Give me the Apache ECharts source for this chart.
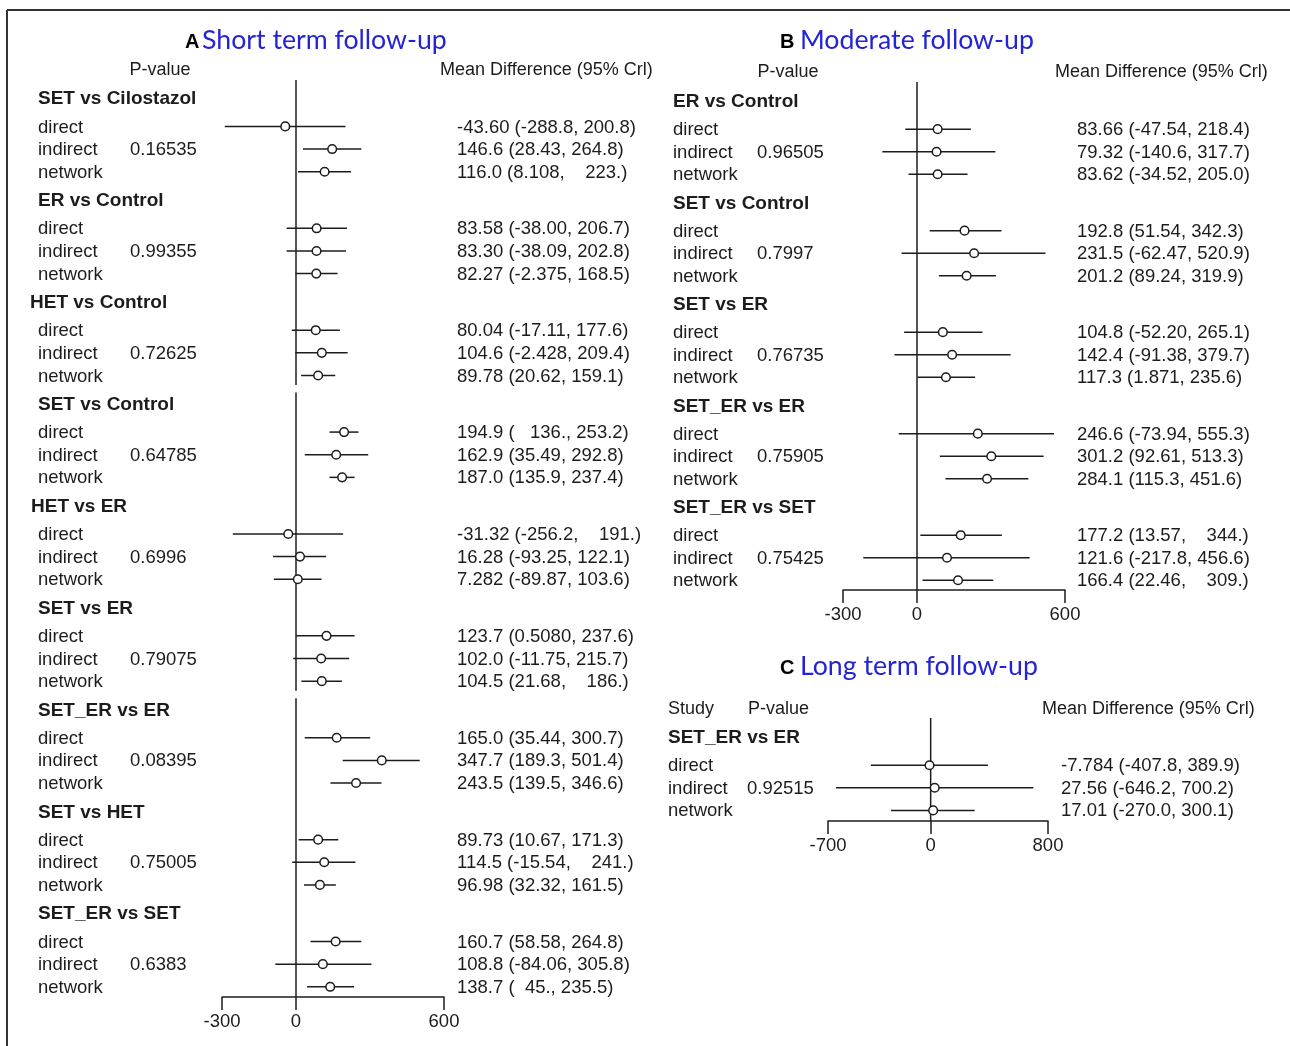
<!DOCTYPE html>
<html><head><meta charset="utf-8">
<script src="https://cdn.jsdelivr.net/npm/echarts@6/dist/echarts.min.js"></script>
<style>html,body{margin:0;padding:0;background:#fff}#c{width:1290px;height:1046px}</style>
</head><body><div id="c"></div><script>
// ---------- DATA ----------
const rowNames = ['direct', 'indirect', 'network'];

// Panel A: Short term follow-up
const compA = ['SET vs Cilostazol', 'ER vs Control', 'HET vs Control', 'SET vs Control', 'HET vs ER', 'SET vs ER', 'SET_ER vs ER', 'SET vs HET', 'SET_ER vs SET'];
const pA = ['0.16535', '0.99355', '0.72625', '0.64785', '0.6996', '0.79075', '0.08395', '0.75005', '0.6383'];
const meanA = [-43.60, 146.6, 116.0, 83.58, 83.30, 82.27, 80.04, 104.6, 89.78, 194.9, 162.9, 187.0, -31.32, 16.28, 7.282, 123.7, 102.0, 104.5, 165.0, 347.7, 243.5, 89.73, 114.5, 96.98, 160.7, 108.8, 138.7];
const loA = [-288.8, 28.43, 8.108, -38.00, -38.09, -2.375, -17.11, -2.428, 20.62, 136.0, 35.49, 135.9, -256.2, -93.25, -89.87, 0.5080, -11.75, 21.68, 35.44, 189.3, 139.5, 10.67, -15.54, 32.32, 58.58, -84.06, 45.0];
const hiA = [200.8, 264.8, 223.0, 206.7, 202.8, 168.5, 177.6, 209.4, 159.1, 253.2, 292.8, 237.4, 191.0, 122.1, 103.6, 237.6, 215.7, 186.0, 300.7, 501.4, 346.6, 171.3, 241.0, 161.5, 264.8, 305.8, 235.5];
const labA = ['-43.60 (-288.8, 200.8)', '146.6 (28.43, 264.8)', '116.0 (8.108,    223.)',
  '83.58 (-38.00, 206.7)', '83.30 (-38.09, 202.8)', '82.27 (-2.375, 168.5)',
  '80.04 (-17.11, 177.6)', '104.6 (-2.428, 209.4)', '89.78 (20.62, 159.1)',
  '194.9 (   136., 253.2)', '162.9 (35.49, 292.8)', '187.0 (135.9, 237.4)',
  '-31.32 (-256.2,    191.)', '16.28 (-93.25, 122.1)', '7.282 (-89.87, 103.6)',
  '123.7 (0.5080, 237.6)', '102.0 (-11.75, 215.7)', '104.5 (21.68,    186.)',
  '165.0 (35.44, 300.7)', '347.7 (189.3, 501.4)', '243.5 (139.5, 346.6)',
  '89.73 (10.67, 171.3)', '114.5 (-15.54,    241.)', '96.98 (32.32, 161.5)',
  '160.7 (58.58, 264.8)', '108.8 (-84.06, 305.8)', '138.7 (  45., 235.5)'];
const ticksA = [-300, 0, 600];

// Panel B: Moderate follow-up
const compB = ['ER vs Control', 'SET vs Control', 'SET vs ER', 'SET_ER vs ER', 'SET_ER vs SET'];
const pB = ['0.96505', '0.7997', '0.76735', '0.75905', '0.75425'];
const meanB = [83.66, 79.32, 83.62, 192.8, 231.5, 201.2, 104.8, 142.4, 117.3, 246.6, 301.2, 284.1, 177.2, 121.6, 166.4];
const loB = [-47.54, -140.6, -34.52, 51.54, -62.47, 89.24, -52.20, -91.38, 1.871, -73.94, 92.61, 115.3, 13.57, -217.8, 22.46];
const hiB = [218.4, 317.7, 205.0, 342.3, 520.9, 319.9, 265.1, 379.7, 235.6, 555.3, 513.3, 451.6, 344.0, 456.6, 309.0];
const labB = ['83.66 (-47.54, 218.4)', '79.32 (-140.6, 317.7)', '83.62 (-34.52, 205.0)',
  '192.8 (51.54, 342.3)', '231.5 (-62.47, 520.9)', '201.2 (89.24, 319.9)',
  '104.8 (-52.20, 265.1)', '142.4 (-91.38, 379.7)', '117.3 (1.871, 235.6)',
  '246.6 (-73.94, 555.3)', '301.2 (92.61, 513.3)', '284.1 (115.3, 451.6)',
  '177.2 (13.57,    344.)', '121.6 (-217.8, 456.6)', '166.4 (22.46,    309.)'];
const ticksB = [-300, 0, 600];

// Panel C: Long term follow-up
const compC = ['SET_ER vs ER'];
const pC = ['0.92515'];
const meanC = [-7.784, 27.56, 17.01];
const loC = [-407.8, -646.2, -270.0];
const hiC = [389.9, 700.2, 300.1];
const labC = ['-7.784 (-407.8, 389.9)', '27.56 (-646.2, 700.2)', '17.01 (-270.0, 300.1)'];
const ticksC = [-700, 0, 800];

// ---------- LAYOUT ----------
const INK = '#1c1c1c';
const FONT = '"Liberation Sans", Arial, sans-serif';
const GROUP_STEP = 4.5;
const ROW_OFF = [1.25, 2.25, 3.25];
const LW = 1.5;

const panels = [
  { comps: compA, p: pA, mean: meanA, lo: loA, hi: hiA, lab: labA, ticks: ticksA,
    grid: { left: 222, top: 80, width: 222, height: 917 }, x: [-300, 600], y: [-0.8, 39.7],
    cols: { head: 38, row: 38, p: 130, val: 457 }, headIndent: { 2: -8, 4: -7 },
    zeroSeg: [[0, 2], [3, 5], [6, 8]] },
  { comps: compB, p: pB, mean: meanB, lo: loB, hi: hiB, lab: labB, ticks: ticksB,
    grid: { left: 843, top: 82, width: 222, height: 508 }, x: [-300, 600], y: [-0.84, 21.68],
    cols: { head: 673, row: 673, p: 757, val: 1077 }, headIndent: {},
    zeroSeg: [[0, 4]] },
  { comps: compC, p: pC, mean: meanC, lo: loC, hi: hiC, lab: labC, ticks: ticksC,
    grid: { left: 828, top: 718, width: 220, height: 103 }, x: [-700, 800], y: [-0.84, 3.72],
    cols: { head: 668, row: 668, p: 747, val: 1061 }, headIndent: {},
    zeroSeg: [[0, 0]] }
];

const grids = [], xAxes = [], yAxes = [], series = [];

panels.forEach((P, pi) => {
  grids.push(Object.assign({ containLabel: false }, P.grid));
  xAxes.push({
    type: 'value', gridIndex: pi, min: P.x[0], max: P.x[1], position: 'bottom',
    axisLine: { show: true, onZero: false, lineStyle: { color: INK, width: LW } },
    axisTick: { show: true, length: 13, customValues: P.ticks, lineStyle: { color: INK, width: LW } },
    axisLabel: { show: true, customValues: P.ticks, margin: 15, color: INK, fontSize: 18.5, fontFamily: FONT },
    splitLine: { show: false }
  });
  yAxes.push({ type: 'value', gridIndex: pi, min: P.y[0], max: P.y[1], inverse: true, show: false,
    splitLine: { show: false } });

  // zero reference line segments
  const nG = P.comps.length;
  const segData = P.zeroSeg.map(([g0, g1]) => [0,
    g0 === 0 ? P.y[0] : g0 * GROUP_STEP - 0.5,
    g1 === nG - 1 ? P.y[1] : g1 * GROUP_STEP + ROW_OFF[2] + 0.42]);
  series.push({
    type: 'custom', xAxisIndex: pi, yAxisIndex: pi, silent: true,
    data: segData, encode: { x: 0, y: [1, 2] },
    renderItem: (params, api) => {
      const a = api.coord([0, api.value(1)]), b = api.coord([0, api.value(2)]);
      return { type: 'line', shape: { x1: a[0], y1: a[1], x2: b[0], y2: b[1] },
        style: { stroke: INK, lineWidth: LW } };
    }
  });

  // CI lines + points
  const ciData = [];
  P.comps.forEach((c, g) => {
    ROW_OFF.forEach((off, k) => {
      const i = g * 3 + k;
      ciData.push([P.mean[i], P.lo[i], P.hi[i], g * GROUP_STEP + off]);
    });
  });
  series.push({
    type: 'custom', xAxisIndex: pi, yAxisIndex: pi, silent: true,
    data: ciData, encode: { x: [0, 1, 2], y: 3 },
    renderItem: (params, api) => {
      const y = api.value(3);
      const a = api.coord([api.value(1), y]);
      const b = api.coord([api.value(2), y]);
      const c = api.coord([api.value(0), y]);
      return { type: 'group', children: [
        { type: 'line', shape: { x1: a[0], y1: a[1], x2: b[0], y2: b[1] }, style: { stroke: INK, lineWidth: LW } },
        { type: 'circle', shape: { cx: c[0], cy: c[1], r: 4.3 }, style: { fill: '#fff', stroke: INK, lineWidth: LW } }
      ] };
    }
  });

  // texts (headers, row labels, p-values, estimates)
  const texts = [];
  P.comps.forEach((c, g) => {
    const base = g * GROUP_STEP;
    texts.push({ y: base, t: c, x: P.cols.head + (P.headIndent[g] || 0), bold: true });
    ROW_OFF.forEach((off, k) => {
      const i = g * 3 + k;
      texts.push({ y: base + off, t: rowNames[k], x: P.cols.row });
      texts.push({ y: base + off, t: P.lab[i], x: P.cols.val });
    });
    texts.push({ y: base + ROW_OFF[1], t: P.p[g], x: P.cols.p });
  });
  series.push({
    type: 'custom', xAxisIndex: pi, yAxisIndex: pi, silent: true,
    data: texts.map(t => [0, t.y]), encode: { x: 0, y: 1 },
    renderItem: (params, api) => {
      const T = texts[params.dataIndex];
      const pt = api.coord([0, api.value(1)]);
      return { type: 'text', x: T.x, y: pt[1] + 1, style: {
        text: T.t, fill: INK, fontFamily: FONT, fontSize: T.bold ? 19 : 18.5,
        fontWeight: T.bold ? 'bold' : 'normal', textAlign: 'left', textVerticalAlign: 'middle' } };
    }
  });
});

const BLUE = '#2424d6';
const TFONT = 'Lato, "Open Sans", sans-serif';
function txt(x, y, s, o) {
  return { type: 'text', x: x, y: y, silent: true, style: Object.assign({
    text: s, fill: INK, fontFamily: FONT, fontSize: 18, textAlign: 'left', textVerticalAlign: 'middle' }, o || {}) };
}
const graphics = [
  { type: 'line', silent: true, shape: { x1: 7, y1: 10, x2: 1290, y2: 10 }, style: { stroke: '#333', lineWidth: 2 } },
  { type: 'line', silent: true, shape: { x1: 7, y1: 10, x2: 7, y2: 1046 }, style: { stroke: '#333', lineWidth: 2 } },
  txt(185, 42, 'A', { fontWeight: 'bold', fontSize: 20, fill: '#000' }),
  txt(202, 40, 'Short term follow-up', { fontFamily: TFONT, fontSize: 26.7, fill: BLUE }),
  txt(160, 70, 'P-value', { textAlign: 'center' }),
  txt(440, 70, 'Mean Difference (95% Crl)'),
  txt(780, 42, 'B', { fontWeight: 'bold', fontSize: 20, fill: '#000' }),
  txt(800, 40, 'Moderate follow-up', { fontFamily: TFONT, fontSize: 26.7, fill: BLUE }),
  txt(788, 72, 'P-value', { textAlign: 'center' }),
  txt(1055, 72, 'Mean Difference (95% Crl)'),
  txt(780, 668, 'C', { fontWeight: 'bold', fontSize: 20, fill: '#000' }),
  txt(800, 666, 'Long term follow-up', { fontFamily: TFONT, fontSize: 26.7, fill: BLUE }),
  txt(668, 709, 'Study'),
  txt(748, 709, 'P-value'),
  txt(1042, 709, 'Mean Difference (95% Crl)')
];

const chart = echarts.init(document.getElementById('c'), null, { renderer: 'canvas' });
chart.setOption({
  backgroundColor: '#fff',
  animation: false,
  grid: grids, xAxis: xAxes, yAxis: yAxes,
  series: series,
  graphic: graphics
});
</script></body></html>
